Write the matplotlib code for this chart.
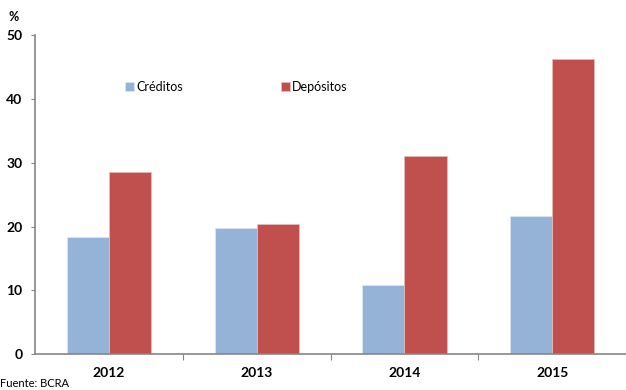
import matplotlib.pyplot as plt
import numpy as np

plt.rcParams["font.family"] = ["Lato", "DejaVu Sans"]

years = ["2012", "2013", "2014", "2015"]
creditos = [18.4, 19.7, 10.9, 21.6]
depositos = [28.5, 20.4, 31.0, 46.3]

BLUE = "#95b3d7"
RED = "#c0504d"
AXIS = "#868686"

fig = plt.figure(figsize=(6.26, 3.9), dpi=100)
ax = fig.add_axes([0.056, 0.092, 0.944, 0.818])

x = np.arange(len(years))
w = 0.285
ax.bar(x - w / 2, creditos, width=w, color=BLUE, edgecolor="#dce6f1", linewidth=0.6, label="Créditos")
ax.bar(x + w / 2, depositos, width=w, color=RED, edgecolor="#e6b9b8", linewidth=0.6, label="Depósitos")

ax.set_xlim(-0.5, len(years) - 0.5)
ax.set_ylim(0, 50)
ax.set_yticks(range(0, 51, 10))
ax.set_yticklabels([str(v) for v in range(0, 51, 10)], fontsize=10, fontweight="bold")
ax.set_xticks(x)
ax.set_xticklabels(years, fontsize=10, fontweight="bold")
ax.set_xticks(np.arange(0.5, len(years) - 0.5), minor=True)
ax.tick_params(axis="x", which="major", length=0, pad=9)
ax.tick_params(axis="x", which="minor", length=4, color=AXIS, width=0.8)
ax.tick_params(axis="y", length=3, color=AXIS, width=0.8, pad=6)

for side in ["top", "right"]:
    ax.spines[side].set_visible(False)
for side in ["left", "bottom"]:
    ax.spines[side].set_color(AXIS)
    ax.spines[side].set_linewidth(1.2)

ax.legend(loc="upper left", bbox_to_anchor=(0.134, 0.892), ncol=2, frameon=False,
          fontsize=9, handlelength=0.7, handleheight=0.7, handletextpad=0.2,
          columnspacing=7.8)

fig.text(0.013, 0.945, "%", fontsize=9, fontweight="bold")
fig.text(0.0, 0.002, "Fuente: BCRA", fontsize=8, va="bottom")

fig.savefig("out.png", dpi=100)
